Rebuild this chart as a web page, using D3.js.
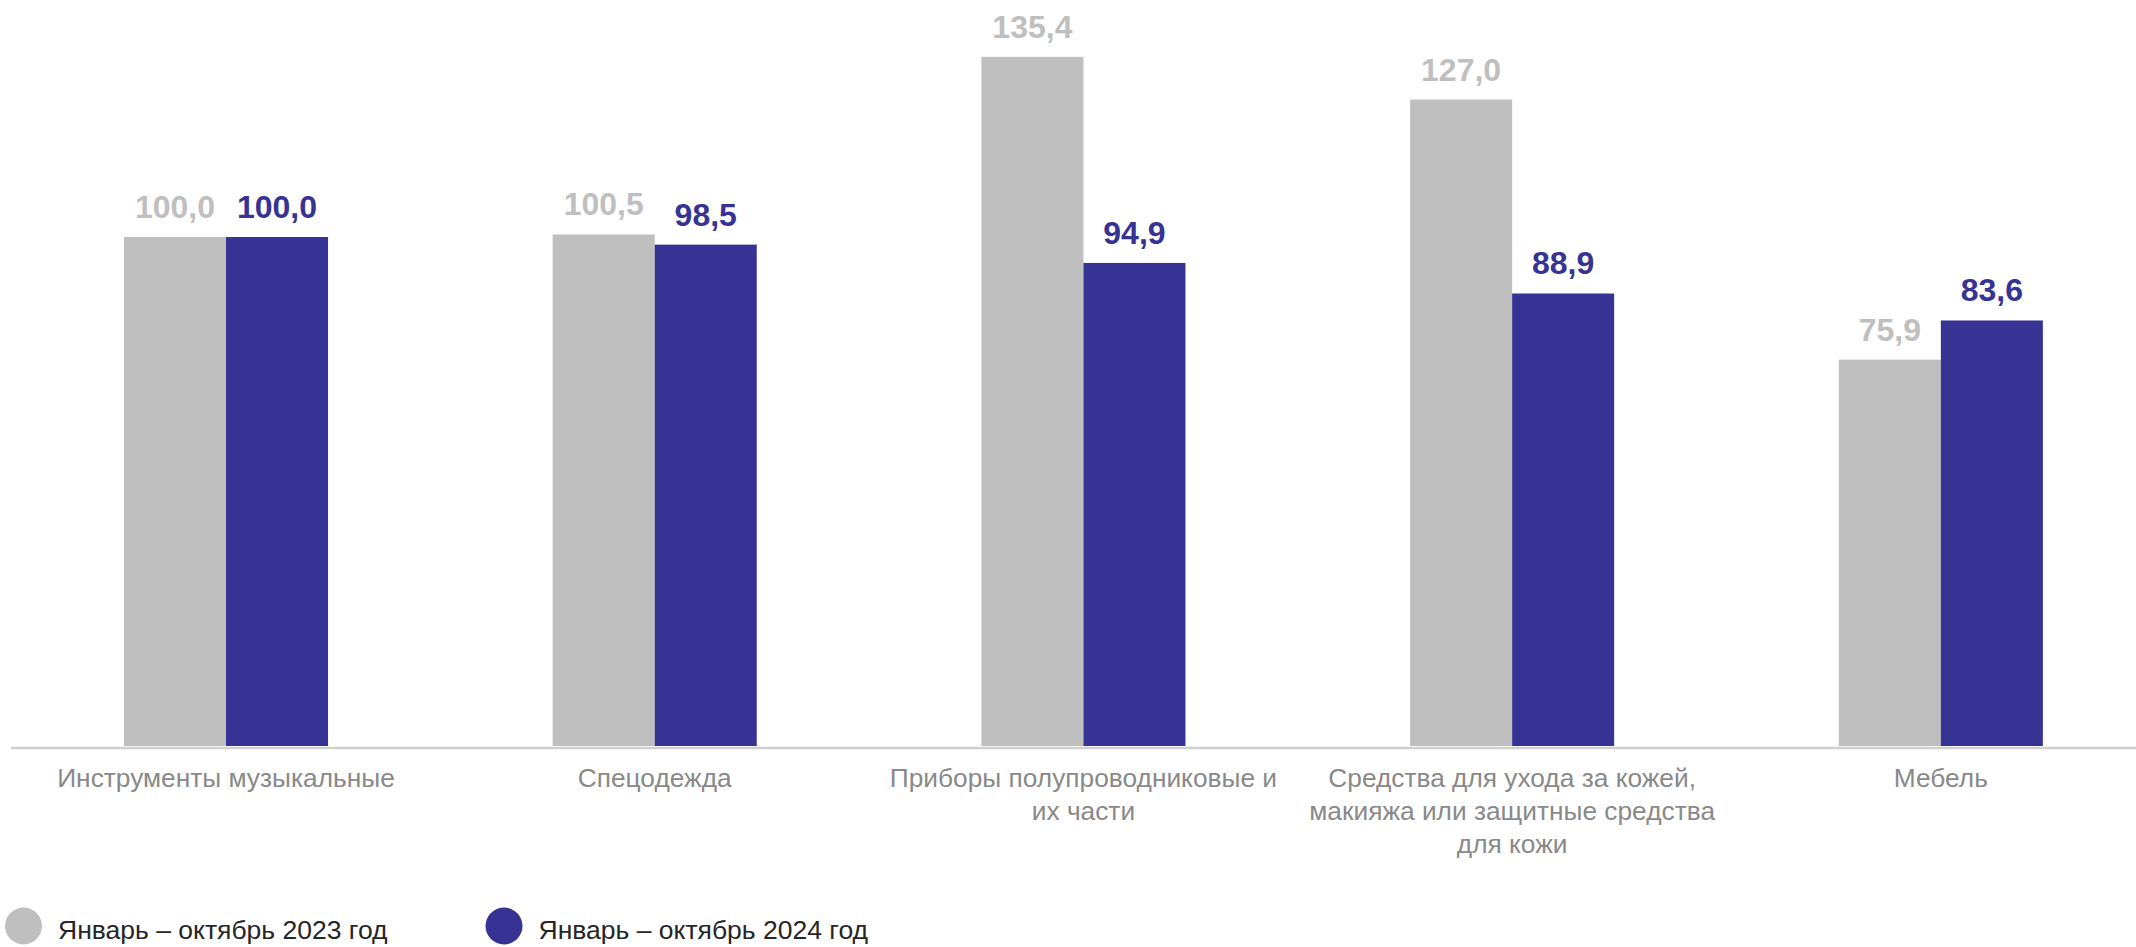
<!DOCTYPE html>
<html>
<head>
<meta charset="utf-8">
<script src="https://cdn.jsdelivr.net/npm/d3@7"></script>
<style>
  body { margin: 0; background: #fff; }
  svg { display: block; font-family: "Liberation Sans", Arial, sans-serif; }
</style>
</head>
<body>
<div class="bars"></div>
<script>
// data
var categories = [
  "Инструменты музыкальные",
  "Спецодежда",
  "Приборы полупроводниковые и\nих части",
  "Средства для ухода за кожей,\nмакияжа или защитные средства\nдля кожи",
  "Мебель"
];
var series = ["Январь – октябрь 2023 год", "Январь – октябрь 2024 год"];
var values2023 = [100.0, 100.5, 135.4, 127.0, 75.9];
var values2024 = [100.0, 98.5, 94.9, 88.9, 83.6];
var colors = ["#bfbfbf", "#373394"];

var width = 2136, height = 947;
var baseline = 746;

var svg = d3
  .select(".bars")
  .append("svg")
  .attr("width", width)
  .attr("height", height);

// ---------------------------//
//       AXIS  AND SCALE      //
// ---------------------------//

var x = d3
  .scaleBand()
  .domain(categories)
  .range([11.65, 2155.2])
  .paddingInner(0.524)
  .paddingOuter(0.262);

var xSub = d3
  .scaleBand()
  .domain(series)
  .range([0, x.bandwidth()]);

var y = d3.scaleLinear().domain([0, 100]).range([baseline, 237]);

var rows = categories.map(function (c, i) {
  return { cat: c, vals: [values2023[i], values2024[i]] };
});

// ---------------------------//
//       BARS                 //
// ---------------------------//

var groups = svg
  .append("g")
  .selectAll("g")
  .data(rows)
  .enter()
  .append("g")
  .attr("transform", function (d) {
    return "translate(" + x(d.cat) + ",0)";
  });

var pairs = function (d) {
  return d.vals.map(function (v, j) {
    return { s: series[j], v: v, j: j };
  });
};

groups
  .selectAll("rect")
  .data(pairs)
  .enter()
  .append("rect")
  .attr("x", function (d) { return xSub(d.s); })
  .attr("y", function (d) { return y(d.v); })
  .attr("width", xSub.bandwidth())
  .attr("height", function (d) { return baseline - y(d.v); })
  .style("fill", function (d) { return colors[d.j]; });

groups
  .selectAll("text.val")
  .data(pairs)
  .enter()
  .append("text")
  .attr("class", "val")
  .attr("x", function (d) { return xSub(d.s) + xSub.bandwidth() / 2; })
  .attr("y", function (d) { return y(d.v) - 19; })
  .attr("text-anchor", "middle")
  .style("font-size", "32px")
  .style("font-weight", "bold")
  .style("fill", function (d) { return colors[d.j]; })
  .text(function (d) { return d3.format(".1f")(d.v).replace(".", ","); });

// axis line
svg
  .append("line")
  .attr("x1", 11)
  .attr("x2", width)
  .attr("y1", baseline + 2)
  .attr("y2", baseline + 2)
  .style("stroke", "#d0d0d0")
  .style("stroke-width", 2.5);

// category labels
var catLabels = svg
  .append("g")
  .selectAll("text")
  .data(categories)
  .enter()
  .append("text")
  .attr("text-anchor", "middle")
  .attr("x", function (d) { return x(d) + x.bandwidth() / 2; })
  .attr("y", 787)
  .style("font-size", "26.3px")
  .style("fill", "#898989");

catLabels
  .selectAll("tspan")
  .data(function (d) { return d.split("\n"); })
  .enter()
  .append("tspan")
  .attr("x", function () {
    return d3.select(this.parentNode).attr("x");
  })
  .attr("dy", function (d, i) { return i === 0 ? 0 : 33; })
  .text(function (d) { return d; });

// ---------------------------//
//       LEGEND               //
// ---------------------------//

var legendX = [23.5, 504];

var legend = svg
  .append("g")
  .selectAll("g")
  .data(series)
  .enter()
  .append("g")
  .attr("transform", function (d, i) {
    return "translate(" + legendX[i] + ",926)";
  });

legend
  .append("circle")
  .attr("r", 18.5)
  .style("fill", function (d, i) { return colors[i]; });

legend
  .append("text")
  .attr("x", 34.5)
  .attr("y", 13)
  .style("font-size", "26.5px")
  .style("fill", "#262626")
  .text(function (d) { return d; });
</script>
</body>
</html>
